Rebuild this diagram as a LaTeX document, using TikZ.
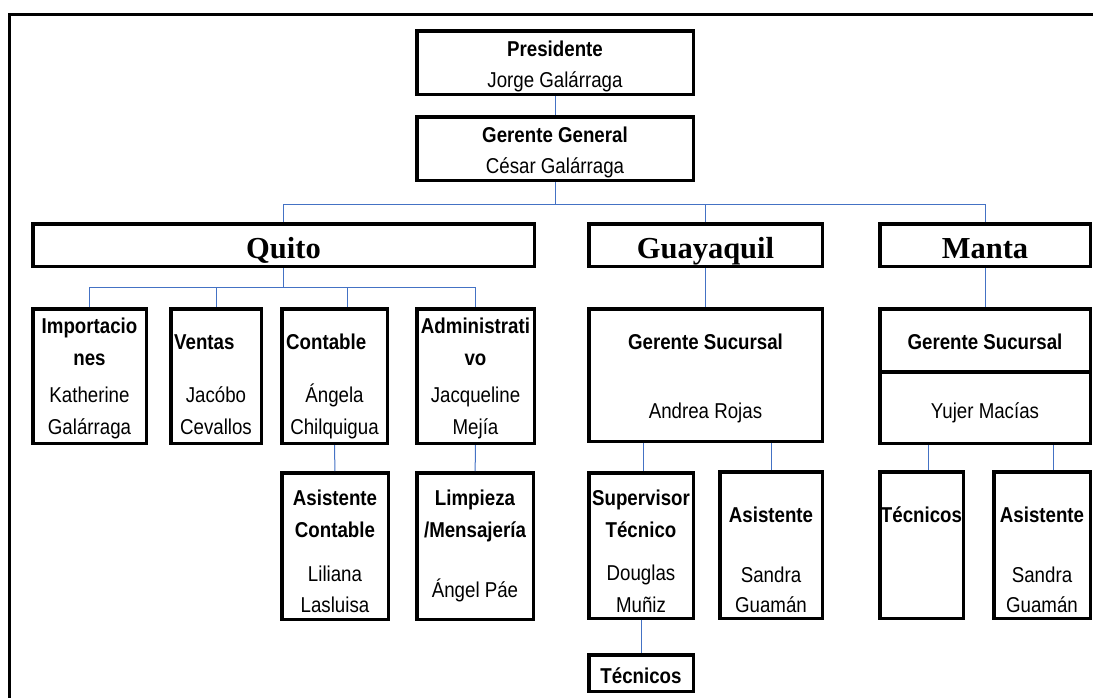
\documentclass[tikz,border=0pt]{standalone}
\usepackage{fontspec}
\newfontfamily\nr{Liberation Sans}[FakeStretch=0.87]
\newfontfamily\cityfam{Liberation Serif}
\definecolor{linkblue}{RGB}{68,114,196}
\newcommand\fr{\nr\fontsize{21.5}{26}\selectfont}
\newcommand\fb{\nr\bfseries\fontsize{21.5}{26}\selectfont}
\newcommand\fc{\cityfam\bfseries\fontsize{30.5}{36}\selectfont}
% box from outer edges: name, x1, y1, x2, y2
\newcommand\obox[5]{\node[box, minimum width={#4-#2-3.5}, minimum height={#5-#3-3.5}] (#1) at ({(#2+#4)/2},{(#3+#5)/2}) {};}
\begin{document}
\begin{tikzpicture}[x=1pt,y=-1pt,
  box/.style={draw=black, line width=3.5pt, rectangle, inner sep=0pt},
  frame/.style={draw=black, line width=3pt},
  conn/.style={draw=linkblue, line width=1pt},
  rt/.style={font=\fr, anchor=base, inner sep=0pt},
  bt/.style={font=\fb, anchor=base, inner sep=0pt},
  btl/.style={font=\fb, anchor=base west, inner sep=0pt},
  ct/.style={font=\fc, anchor=base, inner sep=0pt}]
\useasboundingbox (0,0) rectangle (1093,697);
\begin{scope}
\clip (0,0) rectangle (1093,697);
\draw[frame] (9,720) -- (9,14) -- (1120,14);
\end{scope}

% boxes
\obox{pres}{415}{29}{695}{96}
\obox{gg}{415}{115}{695}{182}
\obox{quito}{31}{222}{536}{268}
\obox{guay}{587}{222}{824}{268}
\obox{manta}{878}{222}{1092}{268}
\obox{imp}{31}{307}{148}{445}
\obox{ven}{169}{307}{263}{445}
\obox{con}{280}{307}{389}{445}
\obox{adm}{415}{307}{536}{445}
\obox{acon}{280}{471}{390}{621}
\obox{limp}{415}{471}{535}{621}
\obox{ggs}{587}{307}{824}{443}
\obox{sup}{587}{471}{695}{620}
\obox{gasi}{718}{470}{824}{620}
\obox{gtec}{587}{653}{695}{693}
\obox{mgs1}{878}{307}{1092}{374}
\obox{mgs2}{878}{370}{1092}{445}
\obox{mtec}{878}{470}{965}{620}
\obox{masi}{992}{470}{1092}{620}

% connectors
\coordinate (bus) at (555,204);
\coordinate (qbus) at (283.5,287);
\draw[conn] (pres) -- (gg);
\draw[conn] (gg.south) -- (bus);
\draw[conn] (quito.north) |- (manta.north |- bus) -- (manta.north);
\draw[conn] (guay.north) -- (guay.north |- bus);
\draw[conn] (quito.south) -- (qbus);
\draw[conn] (imp.north) |- (adm.north |- qbus) -- (adm.north);
\draw[conn] (ven.north) -- (ven.north |- qbus);
\draw[conn] ([xshift=13pt]con.north) -- ([xshift=13pt]con.north |- qbus);
\draw[conn] (con) -- (acon);
\draw[conn] (adm) -- (limp);
\draw[conn] (guay) -- (ggs);
\draw[conn] (manta.south) -- (manta.south |- mgs1.north);
\draw[conn] ([xshift=2pt]sup.north) -- ([xshift=2pt]sup.north |- ggs.south);
\draw[conn] (gasi.north) -- (gasi.north |- ggs.south);
\draw[conn] (sup) -- (gtec);
\draw[conn] ([xshift=6.5pt]mtec.north) -- ([xshift=6.5pt]mtec.north |- mgs2.south);
\draw[conn] ([xshift=11.5pt]masi.north) -- ([xshift=11.5pt]masi.north |- mgs2.south);

% texts
\node[bt] (t1) at (555,56) {Presidente};
\node[rt] (t2) at (555,87) {Jorge Galárraga};
\node[bt] (t3) at (555,142) {Gerente General};
\node[rt] (t4) at (555,173) {César Galárraga};
\node[ct] (t5) at (283.5,258) {Quito};
\node[ct] (t6) at (705.5,258) {Guayaquil};
\node[ct] (t7) at (985,258) {Manta};

\node[bt] (t8) at (89.5,333) {Importacio};
\node[bt] (t9) at (89.5,365) {nes};
\node[rt] (t10) at (89.5,402) {Katherine};
\node[rt] (t11) at (89.5,434) {Galárraga};

\node[btl] (t12) at (174,349) {Ventas};
\node[rt] (t13) at (216,402) {Jacóbo};
\node[rt] (t14) at (216,434) {Cevallos};

\node[btl] (t15) at (286,349) {Contable};
\node[rt] (t16) at (334.5,402) {Ángela};
\node[rt] (t17) at (334.5,434) {Chilquigua};

\node[bt] (t18) at (475.5,333) {Administrati};
\node[bt] (t19) at (475.5,365) {vo};
\node[rt] (t20) at (475.5,402) {Jacqueline};
\node[rt] (t21) at (475.5,434) {Mejía};

\node[bt] (t22) at (335,505) {Asistente};
\node[bt] (t23) at (335,537) {Contable};
\node[rt] (t24) at (335,581) {Liliana};
\node[rt] (t25) at (335,612) {Lasluisa};

\node[bt] (t26) at (475,505) {Limpieza};
\node[bt] (t27) at (475,537) {/Mensajería};
\node[rt] (t28) at (475,597) {Ángel Páe};

\node[bt] (t29) at (705.5,349) {Gerente Sucursal};
\node[rt] (t30) at (705.5,418) {Andrea Rojas};

\node[bt] (t31) at (641,505) {Supervisor};
\node[bt] (t32) at (641,537) {Técnico};
\node[rt] (t33) at (641,580) {Douglas};
\node[rt] (t34) at (641,612) {Muñiz};

\node[bt] (t35) at (771,522) {Asistente};
\node[rt] (t36) at (771,582) {Sandra};
\node[rt] (t37) at (771,612) {Guamán};

\node[bt] (t38) at (641,683) {Técnicos};

\node[bt] (t39) at (985,349) {Gerente Sucursal};
\node[rt] (t40) at (985,418) {Yujer Macías};

\node[bt] (t41) at (921.5,522) {Técnicos};

\node[bt] (t42) at (1042,522) {Asistente};
\node[rt] (t43) at (1042,582) {Sandra};
\node[rt] (t44) at (1042,612) {Guamán};
\end{tikzpicture}
\end{document}
